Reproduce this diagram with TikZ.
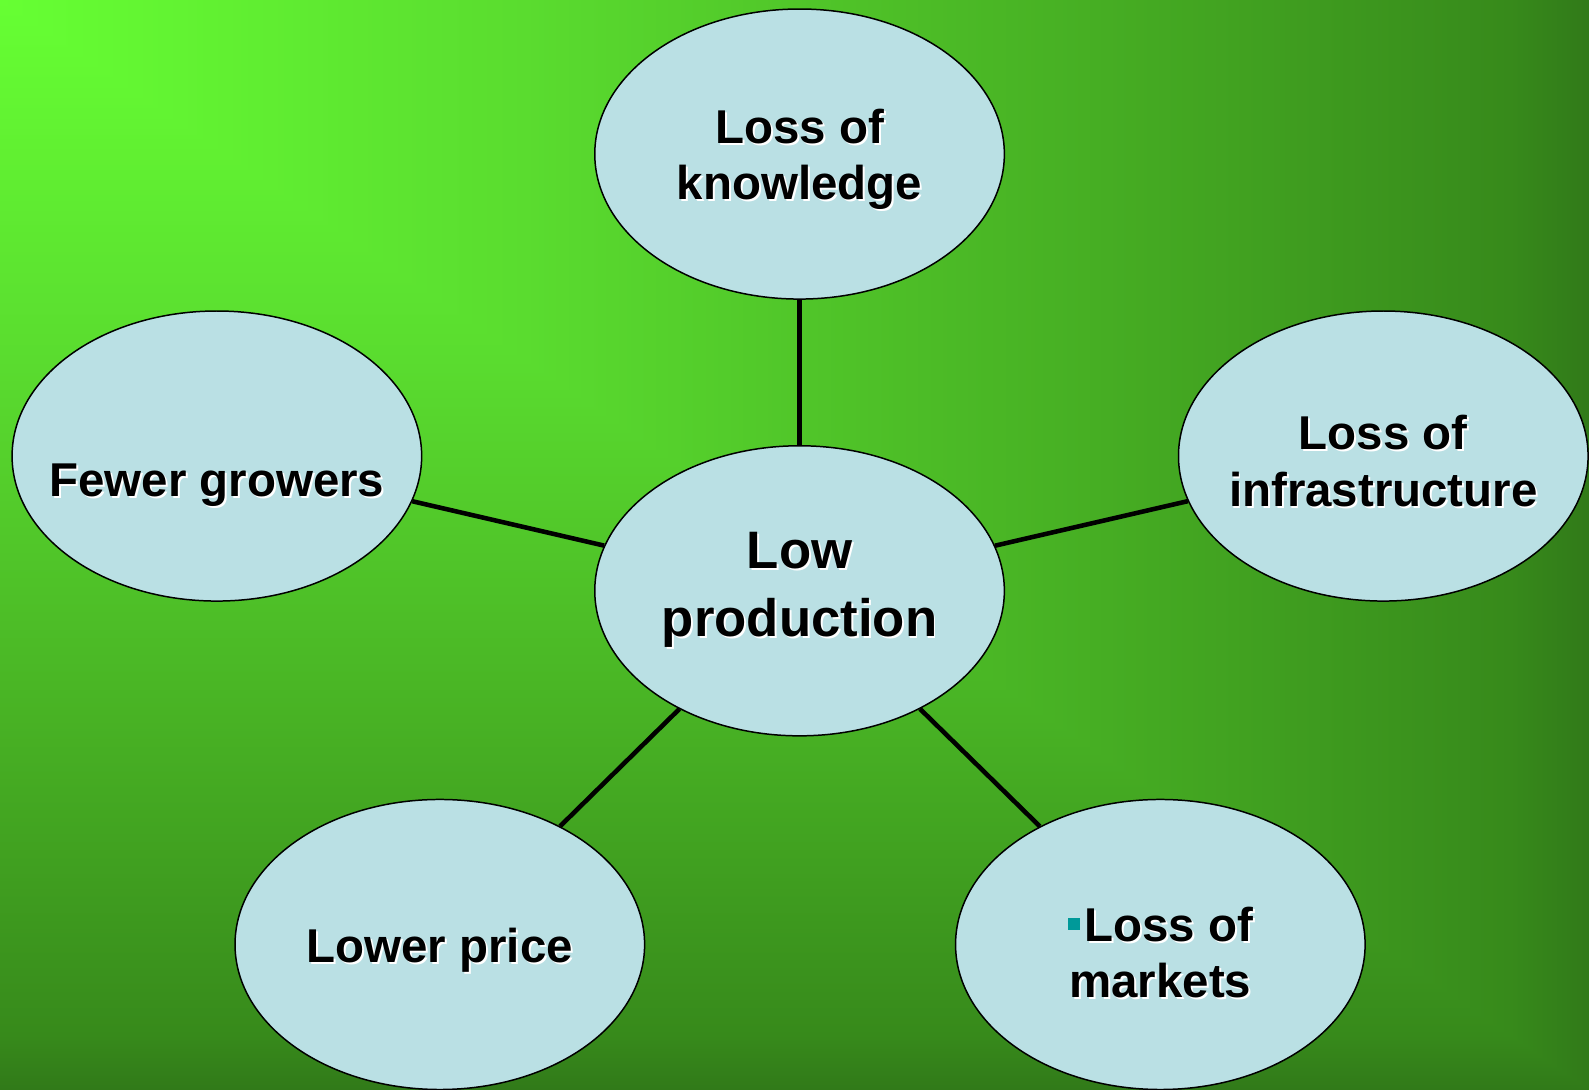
\documentclass[tikz,border=0pt]{standalone}
\usepackage{fontspec}
\setmainfont{Liberation Sans}
\usetikzlibrary{shapes.geometric}
\definecolor{ellfill}{RGB}{186,224,228}
\definecolor{bulletc}{RGB}{0,153,153}
\definecolor{g0}{RGB}{102,255,51}
\definecolor{g1}{RGB}{90,220,47}
\definecolor{g2}{RGB}{72,178,36}
\definecolor{g3}{RGB}{55,138,27}
\definecolor{g4}{RGB}{49,122,25}
\pgfdeclarehorizontalshading{bgx}{100bp}{color(0bp)=(g0); color(25bp)=(g0); color(41.5bp)=(g1); color(58bp)=(g2); color(72.5bp)=(g3); color(75bp)=(g4); color(100bp)=(g4)}
\pgfdeclareverticalshading{bgy}{100bp}{color(0bp)=(g4); color(25bp)=(g4); color(27.5bp)=(g3); color(42bp)=(g2); color(58.5bp)=(g1); color(75bp)=(g0); color(100bp)=(g0)}
\newcommand\shtxt[1]{\leavevmode\rlap{\kern1.1pt\raisebox{-1.1pt}{\color{white}#1}}#1}
\begin{document}
\begin{tikzpicture}[x=0.020268cm,y=-0.020268cm,
  bubble/.style={ellipse,draw=black,line width=0.85pt,fill=ellfill,minimum width=8.19cm,minimum height=5.80cm,inner sep=0pt},
  lbl/.style={align=center,inner sep=0pt,font=\bfseries\fontsize{27}{32.1}\selectfont},
  biglbl/.style={align=center,inner sep=0pt,font=\bfseries\fontsize{30}{39}\selectfont},
  conn/.style={draw=black,line width=2.6pt}]
\useasboundingbox (0,0) rectangle (1568,1075);
\begin{scope}
\clip (-3,-3) rectangle (1571,1078);
\shade[shading=bgx] (0,0) rectangle (1568,1075);
\fill[g4] (1568,-3) rectangle (1571,1078);
\fill[g4] (-3,1075) rectangle (1571,1078);
\end{scope}
\begin{scope}
\clip (0,0) -- (0,1075) -- (1568,1075) -- cycle;
\shade[shading=bgy] (0,0) rectangle (1568,1075);
\end{scope}
\node[bubble] (know) at (789,152) {};
\node[bubble] (fewer) at (214,450) {};
\node[bubble] (infra) at (1365,450) {};
\node[bubble] (low) at (789,583) {};
\node[bubble] (price) at (434,932) {};
\node[bubble] (markets) at (1145,932) {};
\draw[conn] (low) -- (know);
\draw[conn] (low) -- (fewer);
\draw[conn] (low) -- (infra);
\draw[conn] (low) -- (price);
\draw[conn] (low) -- (markets);
\node[lbl] (tknow) at (789,158) {\shtxt{Loss of}\\\shtxt{knowledge}};
\node[lbl] (tfewer) at (214,480) {\shtxt{Fewer growers}};
\node[lbl] (tinfra) at (1365,456) {\shtxt{Loss of}\\\shtxt{infrastructure}};
\node[biglbl] (tlow) at (789,583) {\shtxt{Low}\\\shtxt{production}};
\node[lbl] (tprice) at (434,939) {\shtxt{Lower price}};
\node[lbl] (tmarkets) at (1145,941) {{\color{bulletc}\rule[0.25em]{0.25em}{0.25em}}\kern0.1em\shtxt{Loss of}\\\shtxt{markets}};
\end{tikzpicture}
\end{document}
